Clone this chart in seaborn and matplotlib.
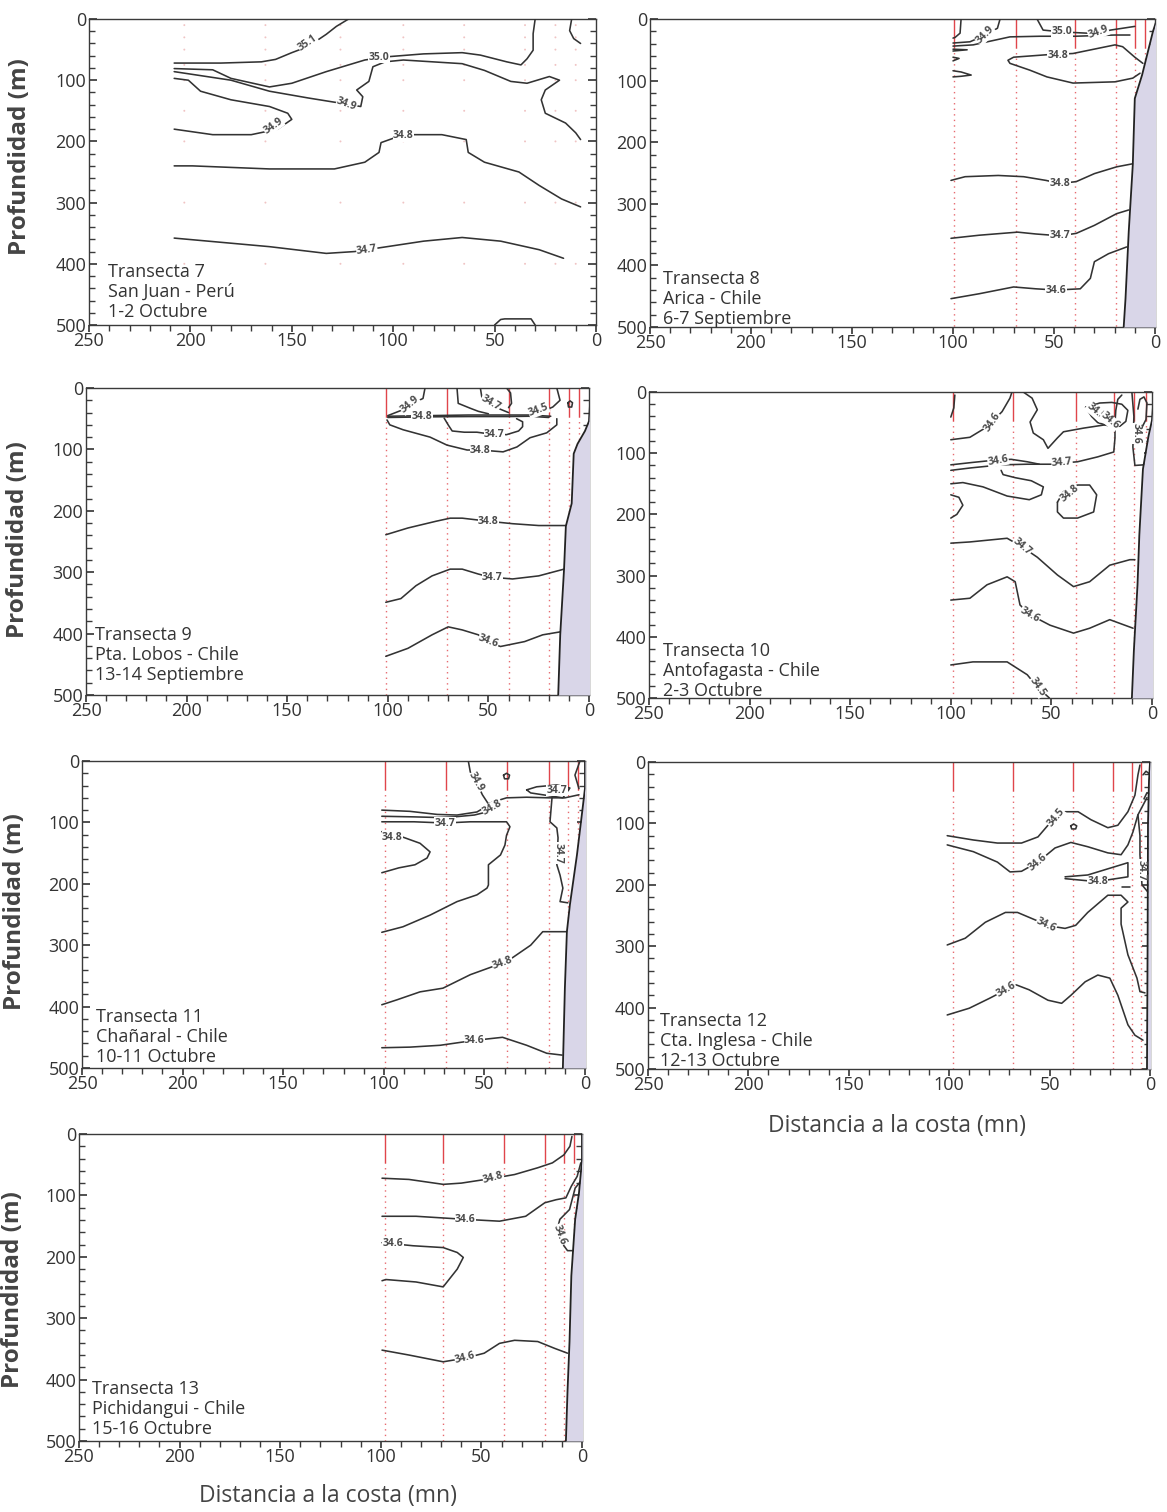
import numpy as np
import pandas as pd
import matplotlib
matplotlib.use("Agg")
import matplotlib.pyplot as plt
import seaborn as sns
from matplotlib.ticker import MultipleLocator

sns.set_theme(style="ticks")
plt.rcParams["font.family"] = ["Open Sans", "DejaVu Sans"]

# ---------------- data (distance to coast [mn], depth [m]) ----------------
T7_LINES = [
    [(122, 0), (128, 12), (133, 25), (142, 45), (150, 55), (158, 66), (165, 70), (185, 72), (208, 72)],
    [(208, 81), (189, 83), (180, 97), (161, 111), (150, 105), (133, 86), (114, 67), (104, 62), (85, 57),
     (66, 55), (57, 59), (44, 70), (37, 75), (34, 65), (31, 51), (31, 24), (30, 0)],
    [(208, 86), (180, 100), (161, 118), (142, 129), (127, 137), (116, 143), (115, 127), (118, 116),
     (112, 102), (110, 78), (104, 70), (95, 67), (66, 73), (55, 84), (42, 102), (34, 105), (23, 94),
     (18, 100), (25, 116), (27, 132), (25, 154), (15, 170), (10, 186), (7.6, 197)],
    [(208, 97), (201, 100), (195, 118), (180, 132), (161, 143), (152, 154), (150, 164), (157, 180),
     (170, 189), (189, 189), (208, 180)],
    [(208, 240), (199, 240), (161, 245), (129, 245), (114, 234), (107, 218), (106, 202), (95, 189),
     (76, 189), (64, 197), (63, 218), (55, 234), (38, 250), (28, 272), (17, 294), (7.6, 307)],
    [(208, 358), (161, 372), (133, 383), (119, 380), (113, 377), (85, 363), (66, 357), (47, 363),
     (28, 377), (16, 391)],
    [(50, 500), (47, 491), (45, 490), (32, 490), (30, 500)],
    [(12, 0), (13, 19), (11, 32), (7.6, 40)],
]
T7_LABELS = [("35.1", 142, 40, 35), ("35.0", 107, 63, 0), ("34.9", 123, 140, -20),
             ("34.9", 159, 175, 35), ("34.8", 95, 191, 0), ("34.7", 113, 377, 8)]
T7_STATIONS = [203, 163, 126, 95, 65, 35, 20, 10]
T7_DOT_DEPTHS = [10, 30, 50, 75, 100, 150, 200, 300, 400]

T8_COAST_X = [-1, 1, 6.4, 10, 11, 13, 14.6, 15.5]
T8_COAST_Y = [0, 20, 91, 129, 237, 345, 454, 500]
T8_STATIONS = [99.5, 68.8, 39.6, 19.5, 9.9, 5]
T8_LINES = [
    [(101, 262), (94, 256), (77.6, 254), (65, 256), (54, 262), (47, 267), (39, 264), (30, 251), (19, 240), (11, 235)],
    [(101, 356), (87, 351), (68, 346), (59, 349), (47, 352), (39, 348), (30, 335), (19, 316), (13, 310)],
    [(101, 454), (87, 446), (70, 435), (59, 438), (49, 440), (37, 438), (32, 421), (30, 394), (23, 381), (14, 370)],
    [(6, 72), (10, 62), (16, 45), (19.8, 42), (40.6, 56), (53.5, 58), (70, 62), (72.8, 67), (71.8, 72),
     (62, 83), (53.5, 94), (40.6, 104), (19.8, 102), (11, 96), (7.4, 88)],
    [(58.4, 0), (55.4, 18), (46, 21), (33.7, 23), (28, 23), (22, 18), (16, 15), (10, 12)],
    [(100, 39), (91.6, 37), (84, 26), (78, 15), (76.7, 0)],
    [(100, 44), (90, 42), (71.8, 29), (57, 28), (39.6, 28), (19.8, 26), (12.4, 26)],
    [(96, 0), (96.5, 23), (99, 30), (100, 31)],
    [(100, 49), (93, 50), (100, 52)],
    [(100, 62), (97, 64), (100, 68)],
    [(100, 84), (96, 86), (91, 91), (96, 93), (100, 94)],
]
T8_LABELS = [("34.9", 84, 26, 45), ("35.0", 46, 21, 0), ("34.9", 28, 22, 20), ("34.8", 48, 60, 0),
             ("34.8", 47, 267, 0), ("34.7", 47, 352, 0), ("34.6", 49, 440, 0)]

T9_COAST_X = [-1, 0, 2, 5.7, 7.6, 8.6, 11.5, 12.4, 14.3, 15.3]
T9_COAST_Y = [0, 54, 70, 91, 107, 188, 225, 295, 402, 500]
T9_STATIONS = [101, 70.6, 40, 20, 10, 5]
T9_LINES = [
    [(101, 239), (90, 228), (76, 217), (69, 212), (63, 212), (50, 217), (38, 221), (25, 224), (11.5, 224)],
    [(101, 349), (93.5, 343), (86, 322), (78, 306), (69, 295), (63, 295), (55, 303), (49, 308), (38, 311),
     (25, 306), (12.4, 295)],
    [(101, 437), (90, 424), (78, 402), (70, 389), (63, 394), (55, 402), (50.6, 413), (44, 421), (32, 413),
     (23, 402), (14, 397)],
    [(100.4, 52), (99, 60), (92.4, 68), (79, 80), (70.6, 93), (60.6, 101), (54, 101), (42.7, 104),
     (35.8, 96), (29.3, 81), (21, 73), (16, 60), (16, 50)],
    [(72, 49), (70, 60), (68, 70), (62, 72), (55.7, 72), (49, 75), (41, 76), (35, 70), (33, 63), (33, 55), (36, 50)],
    [(100, 46), (80, 45), (60, 44), (40, 44), (30, 44), (19, 46)],
    [(100, 48), (80, 47), (60, 46.5), (40, 46.5), (30, 46), (20, 48)],
    [(100, 45), (93, 36), (87.5, 25), (82.5, 17), (81.5, 0)],
    [(65.6, 0), (65, 25), (59, 33), (55, 38), (50, 42)],
    [(54, 0), (53, 20), (49, 28), (43, 36), (40, 40)],
    [(41, 0), (39, 8), (38.5, 25), (40, 32)],
    [(16, 0), (14.4, 20), (18, 31), (23, 38), (28, 42)],
    [(10.5, 24), (9.4, 21), (8.2, 24), (8.6, 31), (10.2, 31), (10.5, 24)],
]
T9_LABELS = [("34.9", 89, 27, 40), ("34.8", 83, 47, 0), ("34.7", 49, 25, -30), ("34.5", 25, 36, 20),
             ("34.7", 47, 76, 0), ("34.8", 54, 102, 0), ("34.8", 50, 217, 0), ("34.7", 48, 308, 0),
             ("34.6", 50, 413, -20)]

T10_COAST_X = [-1, 0, 1.8, 4.5, 6.3, 7.2, 9, 10]
T10_COAST_Y = [0, 46, 73, 126, 234, 315, 422, 500]
T10_STATIONS = [99, 69, 38, 19, 9, 3]
T10_LINES = [
    [(98, 5), (98.5, 26), (100, 41)],
    [(100, 78), (90.5, 74), (83, 59), (79.5, 49), (74.5, 32), (70.6, 10), (69.6, 0)],
    [(64, 0), (59.6, 10), (57, 29), (60.6, 49), (59, 67), (54, 78), (51.7, 92), (47, 75), (44, 65), (34, 59),
     (24, 54), (18.4, 51), (18, 30), (17, 12), (15, 5)],
    [(33, 25), (30, 40), (27, 50), (22, 55), (16, 56), (13, 48), (12, 30), (15, 20), (20, 17), (26, 18), (33, 25)],
    [(10, 0), (9, 40), (9.5, 90), (8.5, 120), (4, 119), (2, 110)],
    [(7, 28), (6, 12), (4, 8), (2.5, 18), (3, 45), (5, 58)],
    [(100, 119), (89, 115), (80, 112), (70, 110), (62, 114), (56, 118)],
    [(100, 128), (90, 124), (75, 119), (62, 118), (50, 118), (44.7, 116), (37, 114), (27, 106), (19, 98),
     (18.4, 75), (18.4, 55)],
    [(100, 150), (94, 148), (84, 155), (72, 170), (61, 176), (55, 168), (54, 155), (60, 145), (68, 140),
     (74, 135), (75, 128)],
    [(100, 168), (96, 172), (94, 185), (97, 200), (100, 206)],
    [(47, 180), (44, 163), (37, 152), (31, 152), (27.5, 168), (29, 196), (37, 206), (44, 206), (47, 196), (47, 180)],
    [(100, 247), (90.5, 245), (72, 239), (64.6, 253), (57, 270), (47, 299), (39, 318), (31, 310), (21, 283),
     (11, 274), (8.5, 274)],
    [(100, 340), (90.5, 337), (82, 315), (72, 302), (68, 310), (65.6, 348), (60.6, 364), (50.7, 381),
     (39, 394), (31, 386), (21, 372), (9.4, 386)],
    [(100, 446), (89, 441), (72, 441), (62, 462), (57, 482), (51, 500)],
]
T10_LABELS = [("34.6", 79.5, 49, 55), ("34.5", 28, 32, -40), ("34.6", 21, 47, -40), ("34.6", 8, 68, -90),
              ("34.6", 76.5, 112, 10), ("34.7", 44.7, 116, 5), ("34.8", 41, 166, 40),
              ("34.7", 64.6, 253, -40), ("34.6", 60.6, 364, -30), ("34.5", 57, 482, -55)]

T11_COAST_X = [0, 0, 1, 4, 7.5, 9, 10, 11]
T11_COAST_Y = [0, 44, 72, 153, 234, 278, 370, 500]
T11_STATIONS = [99.4, 69, 39, 18, 8.4, 3.5]
T11_LINES = [
    [(58, 0), (57, 18), (54, 34), (51, 55), (48, 70), (46, 67), (39, 60), (29, 59), (18, 60), (10, 60), (3, 55)],
    [(101, 80), (87, 82), (73.5, 87), (63.6, 88), (53.7, 83), (48, 72)],
    [(101, 90), (85, 91), (73.5, 92), (65, 91), (55, 88), (50, 84)],
    [(101, 99), (85, 99), (69.6, 101), (57, 99), (39, 99), (37.3, 107), (39, 121), (39.8, 137), (42, 153),
     (48, 169), (48, 202), (48.7, 207), (53.7, 218), (63.6, 229), (77, 251), (90.5, 270), (101, 279)],
    [(101, 115), (90.5, 124), (82, 134), (77, 148), (78.5, 158), (84.5, 169), (92.5, 174), (101, 182)],
    [(16.4, 60), (17.4, 99), (14, 109), (13.4, 125), (14, 169), (12.4, 186), (11, 207), (12.4, 229), (8.5, 231)],
    [(29, 47), (24, 42), (14, 39), (7.5, 44), (11, 60), (21, 55), (27, 52), (29, 47)],
    [(2.5, 0), (5, 23), (3, 45)],
    [(9, 278), (21, 278), (27, 300), (39, 327), (41, 329), (57, 348), (70.6, 370), (82, 376), (93.5, 389), (101, 397)],
    [(101, 467), (87, 466), (72, 463), (55, 455), (41, 450), (29, 463), (19, 476), (11.4, 479)],
    [(40.5, 23), (39, 20), (37.5, 23), (38, 29), (40, 29), (40.5, 23)],
]
T11_LABELS = [("34.9", 54, 34, -60), ("34.8", 46, 76, 30), ("34.7", 69.6, 101, 0), ("34.8", 95.7, 124, 0),
              ("34.7", 13.5, 150, -90), ("34.7", 14, 48, 0), ("34.8", 41, 329, 20), ("34.6", 55, 455, 0)]

T12_COAST_X = [0, 0.5, 1, 1.2, 1.5]
T12_COAST_Y = [0, 30, 100, 300, 500]
T12_STATIONS = [98, 68, 38.5, 18.6, 9, 4.6]
T12_LINES = [
    [(101, 120), (88, 127), (76, 132), (64, 132), (55.8, 122), (50.8, 103), (46.8, 91), (42.3, 81),
     (35.8, 81), (29.4, 94), (21, 107), (16, 103), (11, 81), (7.5, 54), (6, 21), (5, 5)],
    [(101, 135), (88, 146), (76, 163), (69.7, 179), (64, 178), (55.8, 163), (47.3, 140), (39.4, 131),
     (31, 138), (21, 148), (14.4, 151), (11, 135), (8.5, 114), (6, 86), (1.5, 58)],
    [(42.3, 187), (31, 184), (11, 164), (11, 187), (21, 192), (26, 195), (42.3, 190)],
    [(101, 298), (92, 287), (82, 261), (72, 245), (66, 245), (56.6, 258), (51.8, 266), (42.3, 271), (37, 266),
     (31, 245), (21, 217), (14.4, 217), (11, 228), (14.4, 238), (14.4, 264), (11, 314), (6.5, 352), (5, 374),
     (2.5, 376)],
    [(101, 412), (90, 401), (80, 385), (71.7, 371), (66.6, 363), (60.2, 371), (50.8, 388), (44, 393),
     (39.4, 380), (32.3, 358), (26, 347), (20, 352), (16, 380), (11, 428), (7.5, 445), (3.5, 453)],
    [(3.5, 21), (2, 15), (0, 20)],
    [(6, 86), (5, 120), (5, 151), (4.5, 176), (4, 200), (1, 212)],
    [(3, 60), (1.5, 50), (0, 52)],
    [(39.5, 104), (38, 101), (36.5, 104), (37, 109), (39, 109), (39.5, 104)],
    [(14, 204), (10, 204)],
]
T12_LABELS = [("34.5", 46.8, 91, 50), ("34.6", 55.8, 163, 40), ("34.8", 26, 195, 0),
              ("34.6", 51.8, 266, -25), ("34.6", 71.7, 371, 30), ("34.7", 4.5, 176, -90)]

T13_COAST_X = [0, 0, 1.5, 3.4, 5.3, 6.2, 7.2, 8]
T13_COAST_Y = [0, 42, 96, 139, 231, 338, 419, 500]
T13_STATIONS = [98, 69, 39, 18.5, 8.7, 4]
T13_LINES = [
    [(99.4, 72), (86, 74), (69, 82), (60, 80), (44, 72), (33.5, 66), (22, 55), (14.7, 47), (9, 34), (6, 20), (5, 4)],
    [(99.4, 134), (82.5, 134), (58, 139), (41, 142), (28, 134), (18.5, 112), (12.8, 107), (8, 104), (5.3, 85),
     (2.4, 69), (0.6, 47)],
    [(99.4, 177), (84, 182), (69, 185), (62, 193), (59, 201), (62, 220), (69, 249), (82.5, 241), (97.5, 237), (99.4, 239)],
    [(0.6, 77), (3.4, 88), (6.2, 123), (11, 139), (12.8, 161), (11, 166), (9, 182), (7.2, 190), (3.4, 190)],
    [(99.4, 352), (86, 360), (69, 371), (58, 365), (48.6, 357), (41, 341), (33.5, 336), (22, 338), (13.7, 349), (7.2, 357)],
]
T13_LABELS = [("34.8", 44, 72, 15), ("34.6", 58, 139, 0), ("34.6", 94, 179, 0), ("34.6", 11, 164, -70),
              ("34.6", 58, 365, 15)]

TITLES = [
    "Transecta 7\nSan Juan - Perú\n1-2 Octubre",
    "Transecta 8\nArica - Chile\n6-7 Septiembre",
    "Transecta 9\nPta. Lobos - Chile\n13-14 Septiembre",
    "Transecta 10\nAntofagasta - Chile\n2-3 Octubre",
    "Transecta 11\nChañaral - Chile\n10-11 Octubre",
    "Transecta 12\nCta. Inglesa - Chile\n12-13 Octubre",
    "Transecta 13\nPichidangui - Chile\n15-16 Octubre",
]
X_TICKS = [250, 200, 150, 100, 50, 0]
Y_TICKS = [0, 100, 200, 300, 400, 500]
Y_LABEL = "Profundidad (m)"
X_LABEL = "Distancia a la costa (mn)"

# ---------------- layout (pixels) ----------------
W, H = 1167, 1512
fig = plt.figure(figsize=(W / 100, H / 100), dpi=100)

BOXES = [(89, 19, 596, 325), (650, 19, 1155, 327), (86, 388, 589, 695), (649, 392, 1152, 698),
         (82, 761, 585, 1068), (648, 762, 1150, 1069), (79, 1134, 582, 1441)]
TEXT_POS = [(0.037, 0.013), (0.026, -0.003), (0.018, 0.036), (0.028, -0.006),
            (0.028, 0.007), (0.024, -0.003), (0.026, 0.01)]

LINE_C = "#333333"
RED = "#e0454b"


def make_ax(box):
    l, t, r, b = box
    return fig.add_axes([l / W, 1 - b / H, (r - l) / W, (b - t) / H])


def style_ax(ax):
    ax.set_xlim(250, 0)
    ax.set_ylim(500, 0)
    ax.set_xticks(X_TICKS)
    ax.set_yticks(Y_TICKS)
    ax.xaxis.set_minor_locator(MultipleLocator(10))
    ax.yaxis.set_minor_locator(MultipleLocator(20))
    ax.set_xlabel("")
    ax.set_ylabel("")
    for s in ax.spines.values():
        s.set_color("#3a3a3a")
        s.set_linewidth(1.0)
        s.set_visible(True)
    ax.tick_params(axis="y", which="both", left=True, right=True, direction="in",
                   labelsize=13, labelcolor="#333333", color="#3a3a3a", pad=2)
    ax.tick_params(axis="y", which="major", length=6)
    ax.tick_params(axis="y", which="minor", length=4)
    ax.tick_params(axis="x", which="both", bottom=True, top=False, direction="out",
                   labelsize=13, labelcolor="#333333", color="#3a3a3a", pad=0)
    ax.tick_params(axis="x", which="major", length=5)
    ax.tick_params(axis="x", which="minor", length=4)
    ax.set_facecolor("white")


def draw_lines(ax, lines):
    rows = [(i, x, y) for i, ln in enumerate(lines) for (x, y) in ln]
    df = pd.DataFrame(rows, columns=["id", "dist", "depth"])
    sns.lineplot(data=df, x="dist", y="depth", units="id", estimator=None, sort=False,
                 color=LINE_C, lw=1.15, ax=ax, legend=False, zorder=3)


def draw_labels(ax, labels):
    for s, x, y, r in labels:
        ax.text(x, y, s, rotation=r, fontsize=7.5, fontweight="bold", color="#4a4a4a",
                ha="center", va="center", rotation_mode="anchor", zorder=6,
                bbox=dict(fc="white", ec="none", pad=0.2))


def draw_coast(ax, cx, cy):
    cx = np.asarray(cx, float)
    cy = np.asarray(cy, float)
    ax.fill_betweenx(cy, cx, -2, color="#d9d6e8", zorder=4, lw=0)
    ax.plot(cx, cy, color="#222222", lw=1.3, zorder=5)


def draw_stations(ax, stations, cx, cy, solid=45):
    for s in stations:
        if s > cx[-1]:
            stop = 500
        else:
            stop = float(np.interp(s, cx, cy))
        ax.plot([s, s], [0, min(solid, stop)], color=RED, lw=1.0, zorder=2)
        if stop > solid:
            ax.plot([s, s], [solid, stop], color=RED, lw=1.0, ls=(0, (1, 3)), alpha=0.8, zorder=2)


axes = [make_ax(b) for b in BOXES]

# Transecta 7
ax = axes[0]
dots = pd.DataFrame([(s, d) for s in T7_STATIONS for d in T7_DOT_DEPTHS], columns=["dist", "depth"])
sns.scatterplot(data=dots, x="dist", y="depth", s=2, color="#f0c4c4", edgecolor="none", ax=ax, zorder=1)
draw_lines(ax, T7_LINES)
draw_labels(ax, T7_LABELS)

panels = [
    (T8_LINES, T8_LABELS, T8_COAST_X, T8_COAST_Y, T8_STATIONS),
    (T9_LINES, T9_LABELS, T9_COAST_X, T9_COAST_Y, T9_STATIONS),
    (T10_LINES, T10_LABELS, T10_COAST_X, T10_COAST_Y, T10_STATIONS),
    (T11_LINES, T11_LABELS, T11_COAST_X, T11_COAST_Y, T11_STATIONS),
    (T12_LINES, T12_LABELS, T12_COAST_X, T12_COAST_Y, T12_STATIONS),
    (T13_LINES, T13_LABELS, T13_COAST_X, T13_COAST_Y, T13_STATIONS),
]
for ax, (lines, labels, cx, cy, st) in zip(axes[1:], panels):
    draw_stations(ax, st, cx, cy)
    draw_lines(ax, lines)
    draw_labels(ax, labels)
    draw_coast(ax, cx, cy)

for i, ax in enumerate(axes):
    style_ax(ax)
    tx, ty = TEXT_POS[i]
    ax.text(tx, ty, TITLES[i], transform=ax.transAxes, fontsize=13, color="#333333",
            ha="left", va="bottom", linespacing=1.15, zorder=7)

# Axis titles
for (px, py) in [(20, 157), (18, 540), (15, 912), (13, 1290)]:
    fig.text(px / W, 1 - py / H, Y_LABEL, rotation=90, ha="center", va="center",
             fontsize=17.5, fontweight="bold", color="#444444")
for (px, py) in [(897, 1126), (328, 1496)]:
    fig.text(px / W, 1 - py / H, X_LABEL, ha="center", va="center", fontsize=16.5, color="#444444")

fig.savefig("out.png", dpi=100, facecolor="white")
